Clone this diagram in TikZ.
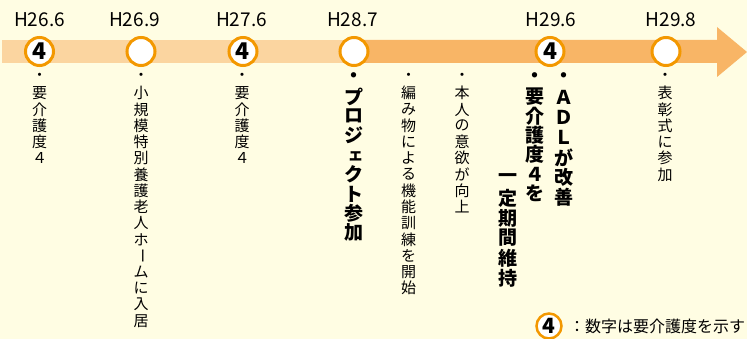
\documentclass[tikz,border=0pt]{standalone}
\usepackage{fontspec}
\usepackage{graphicx}
\setmainfont{Noto Sans CJK JP}
\definecolor{bgc}{HTML}{FFFDE3}
\definecolor{bandlight}{HTML}{FBD5A0}
\definecolor{banddark}{HTML}{F8B566}
\definecolor{ringc}{HTML}{F39800}
\newcommand\vcol[6]{%
  \foreach \c [count=\i from 0] in {#6} {%
    \node[#5] (#1-\i) at (#2, {#3+\i*#4}) {\c};}}
\newcommand\vbar{\rotatebox[origin=c]{-90}{ー}}
\begin{document}
\begin{tikzpicture}[x=1pt,y=-1pt,
  evcirc/.style={circle,draw=ringc,line width=3pt,fill=white,minimum size=28pt,inner sep=0pt,font=\fontsize{23}{23}\selectfont\bfseries},
  datelbl/.style={anchor=base,inner sep=0pt,font=\fontsize{19}{19}\selectfont},
  smallch/.style={inner sep=0pt,font=\fontsize{15}{15}\selectfont},
  boldch/.style={inner sep=0pt,font=\fontsize{19}{19}\selectfont\bfseries}]
\useasboundingbox (0,0) rectangle (747,339);
\fill[bgc] (0,0) rectangle (747,339);
% band
\fill[bandlight] (2,40) rectangle (354,63);
\fill[banddark] (354,40) -- (717,40) -- (717,27) -- (747,52) -- (717,77) -- (717,63) -- (354,63) -- cycle;
% circles
\node[evcirc] (c1) at (39.5,51.5) {4};
\node[evcirc] (c2) at (141,51.5) {};
\node[evcirc] (c3) at (243,51.5) {4};
\node[evcirc] (c4) at (354,51.5) {};
\node[evcirc] (c5) at (550,51.5) {4};
\node[evcirc] (c6) at (666,51.5) {};
% dates
\node[datelbl] (d1) at (39.5,27) {H26.6};
\node[datelbl] (d2) at (134.5,27) {H26.9};
\node[datelbl] (d3) at (241.5,27) {H27.6};
\node[datelbl] (d4) at (352.5,27) {H28.7};
\node[datelbl] (d5) at (551,27) {H29.6};
\node[datelbl] (d6) at (671,27) {H29.8};
% vertical texts
\vcol{ta}{39.5}{77}{16.25}{smallch}{・,要,介,護,度,４}
\vcol{tb}{141}{77}{16.25}{smallch}{・,小,規,模,特,別,養,護,老,人,ホ,\vbar,ム,に,入,居}
\vcol{tc}{242}{77}{16.25}{smallch}{・,要,介,護,度,４}
\vcol{td}{354}{77.5}{19.4}{boldch}{・,プ,ロ,ジ}
\node[boldch,font=\fontsize{16}{16}\selectfont\bfseries] (td-4) at (355.5,156) {ェ};
\vcol{tdb}{354}{174.5}{19.4}{boldch}{ク,ト,参,加}
\vcol{te}{408.5}{77}{16.25}{smallch}{・,編,み,物,に,よ,る,機,能,訓,練,を,開,始}
\vcol{tf}{462}{77}{16.25}{smallch}{・,本,人,の,意,欲,が,向,上}
\vcol{tg}{535}{77.5}{19.3}{boldch}{・,要,介,護,度,４,を}
\vcol{th}{507.5}{178}{20}{boldch}{一,定,期,間,維,持}
\vcol{ti}{564}{77.5}{20}{boldch}{・,Ａ,Ｄ,Ｌ,が,改,善}
\vcol{tj}{665}{77}{16.25}{smallch}{・,表,彰,式,に,参,加}
% legend
\node[evcirc,minimum size=25pt,line width=2.5pt,font=\fontsize{21}{21}\selectfont\bfseries] (lg) at (549,326) {4};
\node[anchor=west,inner sep=0pt,font=\fontsize{16}{16}\selectfont] (lgt) at (569,326) {：数字は要介護度を示す};
\end{tikzpicture}
\end{document}
